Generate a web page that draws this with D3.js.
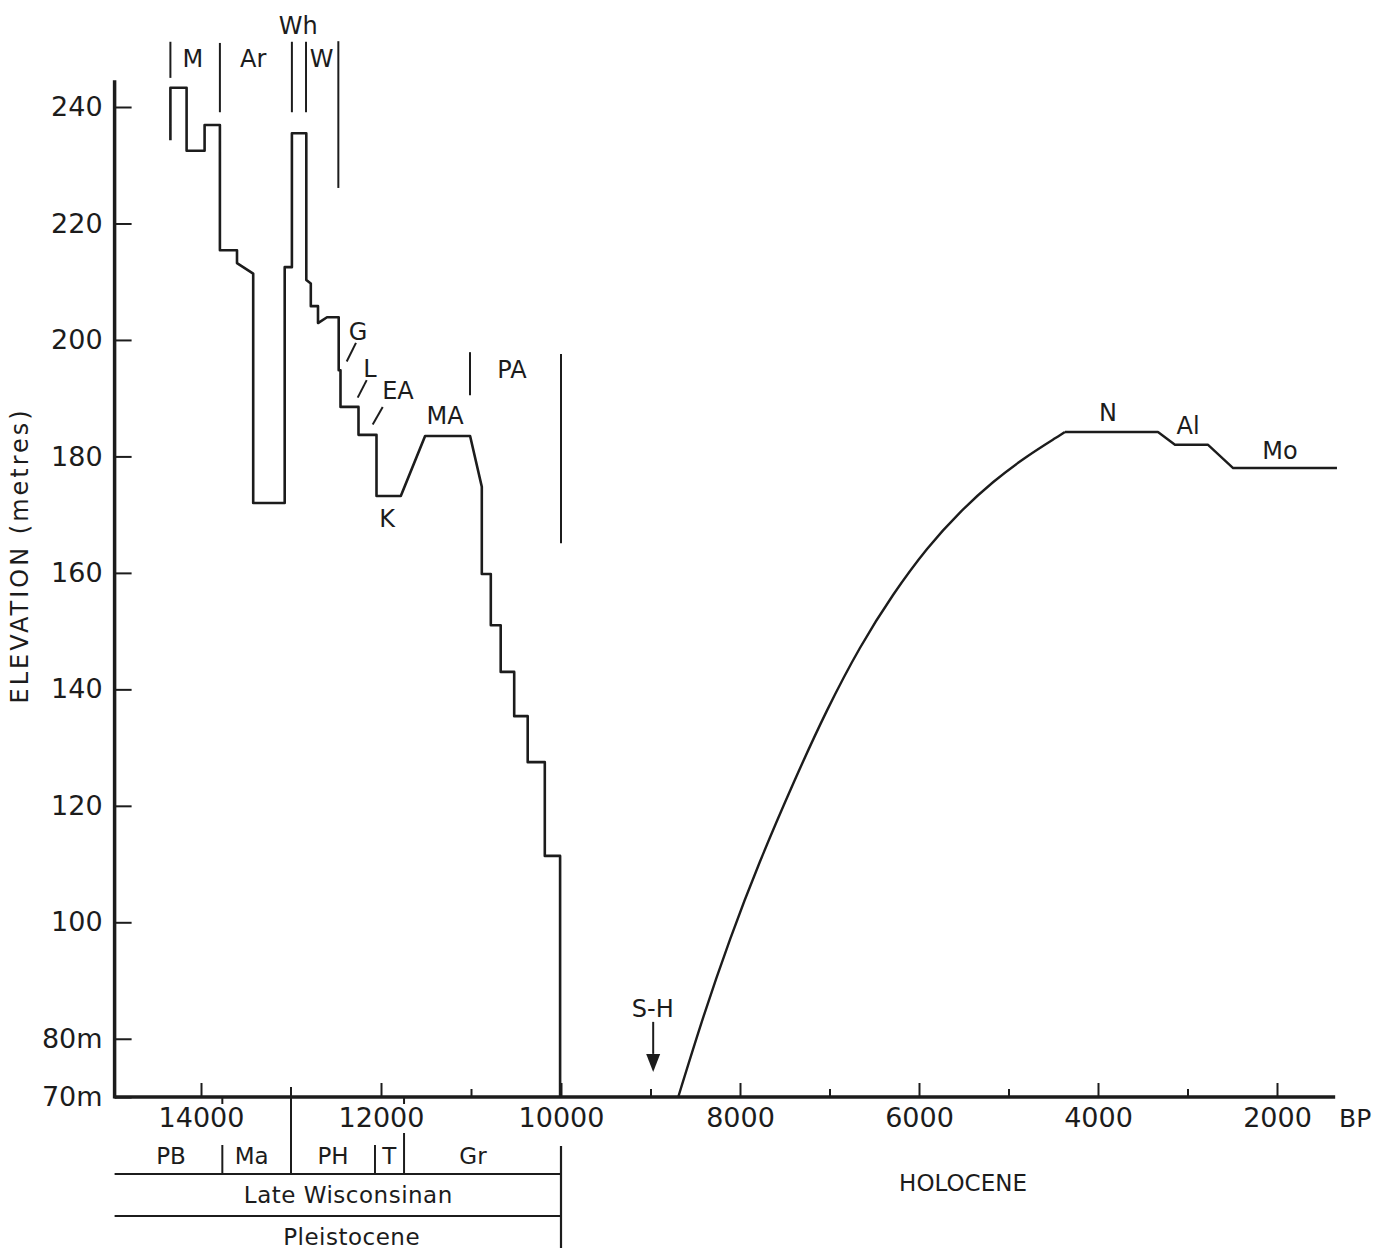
<!DOCTYPE html>
<html>
<head>
<meta charset="utf-8">
<script src="https://cdn.jsdelivr.net/npm/d3@7"></script>
<style>
  body { margin: 0; background: #fff; }
  svg text { font-family: "DejaVu Sans", sans-serif; fill: #1c1c1c; }
</style>
</head>
<body>
<svg id="chart" width="1379" height="1253"></svg>
<script>
// Late Wisconsinan lake levels, stepped record (years BP, elevation m)
const pleistoYears = [14340, 14340, 14160, 14160, 13960, 13960, 13790, 13790, 13600, 13600,
  13420, 13420, 13070, 13070, 12990, 12990, 12830, 12830, 12780, 12780, 12700, 12700, 12600,
  12470, 12470, 12450, 12450, 12250, 12250, 12050, 12050, 11780, 11510, 11010, 10880, 10880,
  10780, 10780, 10670, 10670, 10520, 10520, 10370, 10370, 10180, 10180, 10010, 10010];
const pleistoElev = [234.3, 243.3, 243.3, 232.5, 232.5, 236.9, 236.9, 215.4, 215.4, 213.2,
  211.4, 172.0, 172.0, 212.5, 212.5, 235.5, 235.5, 210.3, 209.7, 205.8, 205.8, 202.9, 203.9,
  203.9, 194.8, 194.8, 188.5, 188.5, 183.7, 183.7, 173.2, 173.2, 183.5, 183.5, 174.8, 159.8,
  159.8, 151.0, 151.0, 143.0, 143.0, 135.4, 135.4, 127.5, 127.5, 111.4, 111.4, 70];

// Holocene rise (smooth) and the later stepped levels
const holoYears = [8690, 8410, 8110, 7780, 7400, 7030, 6660, 6290, 5910, 5540, 5170, 4800, 4480, 4370];
const holoElev = [70, 83.7, 97.1, 110.3, 124.0, 136.3, 147.1, 156.2, 164.1, 170.4, 175.6, 179.9, 183.1, 184.2];
const lateYears = [4370, 3330, 3140, 2770, 2490, 1330];
const lateElev = [184.2, 184.2, 182.0, 182.0, 178.0, 178.0];

// axes
const majorTicks = [14000, 12000, 10000, 8000, 6000, 4000, 2000];
const minorTicks = [11000, 9000, 7000, 5000, 3000];
const elevTicks = [240, 220, 200, 180, 160, 140, 120, 100, 80, 70];
const yearExtent = [14960, 1350];
const elevExtent = [70, 244.6];

// lake phase labels
const lakeNames = ["M", "Ar", "Wh", "W", "G", "L", "EA", "MA", "K", "PA", "N", "Al", "Mo", "S-H"];
const lakeYears = [14090, 13420, 12920, 12660, 12256, 12122, 11811, 11289, 11933, 10544, 3888, 2994, 1966, 8975];
const lakeElev = [246.9, 246.9, 252.5, 246.9, 200.0, 193.7, 189.9, 185.5, 167.9, 193.5, 186.1, 183.8, 179.6, 83.7];

// phase boundary bars
const phaseYears = [14340, 13790, 12990, 12833, 12474, 11011, 10000];
const phaseTop = [251.2, 251.0, 251.2, 251.2, 251.3, 197.9, 197.6];
const phaseBottom = [245.0, 239.1, 239.1, 239.1, 226.1, 190.5, 165.1];

// G / L / EA / slashes
const slashFrom = [[12381, 196.3], [12259, 190.1], [12092, 185.5]];
const slashTo = [[12278, 199.5], [12159, 193.1], [11981, 188.5]];

// S-H arrow
const arrowYear = 8970;
const arrowElev = [82.9, 77.4, 74.3];

// stratigraphic units under the axis
const stageNames = ["PB", "Ma", "PH", "T", "Gr"];
const stageMid = [14333, 13437, 12533, 11908, 10978];
const stageBounds = [13763, 13000, 12067, 11744];
const stageBoundTop = [1145, 1087, 1145, 1133];

const svg = d3.select('#chart');

const x = d3.scaleLinear().domain([14000, 10000, 2000]).range([201, 561, 1277]);
const y = d3.scaleLinear().domain([70, 240]).range([1097, 107]);

const ink = '#1c1c1c';
const x0 = x(yearExtent[0]), x1 = x(yearExtent[1]);
const y0 = y(elevExtent[0]), y1 = y(elevExtent[1]);

// axis frame
svg.append('line').attr('x1', x0).attr('x2', x1).attr('y1', y0).attr('y2', y0)
  .attr('stroke', ink).attr('stroke-width', 3.5);
svg.append('line').attr('x1', x0).attr('x2', x0).attr('y1', y1).attr('y2', y0 + 1.5)
  .attr('stroke', ink).attr('stroke-width', 3.5);

// x ticks
const gx = svg.append('g').attr('transform', `translate(0,${y0})`);
gx.call(d3.axisBottom(x).tickValues(majorTicks).tickSize(-14).tickPadding(11).tickFormat(d3.format('d')));
gx.append('g').call(d3.axisBottom(x).tickValues(minorTicks).tickSize(-8).tickFormat(''));
gx.selectAll('.domain').remove();
gx.selectAll('line').attr('stroke', ink).attr('stroke-width', 2);
gx.selectAll('text').attr('font-size', 27).attr('fill', ink)
  .style('font-family', '"DejaVu Sans", sans-serif');

svg.append('text').attr('x', x1 + 20).attr('y', y0 + 30).attr('text-anchor', 'middle')
  .attr('font-size', 25).text('BP');

// y ticks
const gy = svg.append('g').attr('transform', `translate(${x0},0)`);
gy.call(d3.axisLeft(y).tickValues(elevTicks).tickSize(-17).tickPadding(12)
  .tickFormat(d => d <= 80 ? d + 'm' : d));
gy.select('.domain').remove();
gy.selectAll('line').attr('stroke', ink).attr('stroke-width', 2);
gy.selectAll('text').attr('font-size', 27).attr('fill', ink)
  .style('font-family', '"DejaVu Sans", sans-serif');

svg.append('text')
  .attr('transform', `translate(28,${y(163)}) rotate(-90)`)
  .attr('text-anchor', 'middle').attr('font-size', 24).attr('letter-spacing', 3)
  .text('ELEVATION (metres)');

// curves
const line = d3.line().x(d => x(d[0])).y(d => y(d[1]));
const curve = d3.line().x(d => x(d[0])).y(d => y(d[1])).curve(d3.curveNatural);

svg.append('path').datum(d3.zip(pleistoYears, pleistoElev)).attr('d', line)
  .attr('fill', 'none').attr('stroke', ink).attr('stroke-width', 2.6).attr('stroke-linejoin', 'round');
svg.append('path').datum(d3.zip(holoYears, holoElev)).attr('d', curve)
  .attr('fill', 'none').attr('stroke', ink).attr('stroke-width', 2.4);
svg.append('path').datum(d3.zip(lateYears, lateElev)).attr('d', line)
  .attr('fill', 'none').attr('stroke', ink).attr('stroke-width', 2.4).attr('stroke-linejoin', 'round');

// phase bars
phaseYears.forEach((yr, i) => {
  svg.append('line').attr('x1', x(yr)).attr('x2', x(yr))
    .attr('y1', y(phaseTop[i])).attr('y2', y(phaseBottom[i]))
    .attr('stroke', ink).attr('stroke-width', 2);
});

// slashes
slashFrom.forEach((p, i) => {
  svg.append('line').attr('x1', x(p[0])).attr('y1', y(p[1]))
    .attr('x2', x(slashTo[i][0])).attr('y2', y(slashTo[i][1]))
    .attr('stroke', ink).attr('stroke-width', 2);
});

// lake labels
lakeNames.forEach((n, i) => {
  svg.append('text').attr('x', x(lakeYears[i])).attr('y', y(lakeElev[i]))
    .attr('text-anchor', 'middle').attr('font-size', 24).text(n);
});

// S-H arrow
const ax = x(arrowYear);
svg.append('line').attr('x1', ax).attr('x2', ax).attr('y1', y(arrowElev[0])).attr('y2', y(arrowElev[1]))
  .attr('stroke', ink).attr('stroke-width', 2);
svg.append('path')
  .attr('d', `M${ax - 7},${y(arrowElev[1])}L${ax + 7},${y(arrowElev[1])}L${ax},${y(arrowElev[2])}Z`)
  .attr('fill', ink);

// stratigraphy below the axis
const rowLine1 = 1174, rowLine2 = 1216;
stageBounds.forEach((yr, i) => {
  svg.append('line').attr('x1', x(yr)).attr('x2', x(yr))
    .attr('y1', stageBoundTop[i]).attr('y2', rowLine1)
    .attr('stroke', ink).attr('stroke-width', 2);
});
[13763, 11744].forEach(yr => {
  svg.append('line').attr('x1', x(yr)).attr('x2', x(yr)).attr('y1', y0).attr('y2', y0 + 7)
    .attr('stroke', ink).attr('stroke-width', 2);
});
stageNames.forEach((n, i) => {
  svg.append('text').attr('x', x(stageMid[i])).attr('y', 1164)
    .attr('text-anchor', 'middle').attr('font-size', 23).text(n);
});
[rowLine1, rowLine2].forEach(ry => {
  svg.append('line').attr('x1', x0).attr('x2', x(10000)).attr('y1', ry).attr('y2', ry)
    .attr('stroke', ink).attr('stroke-width', 2.2);
});
svg.append('line').attr('x1', x(10000)).attr('x2', x(10000)).attr('y1', 1146).attr('y2', 1248)
  .attr('stroke', ink).attr('stroke-width', 2.2);
svg.append('text').attr('x', x(12363)).attr('y', 1203).attr('text-anchor', 'middle')
  .attr('font-size', 23).attr('letter-spacing', 0.5).text('Late  Wisconsinan');
svg.append('text').attr('x', x(12326)).attr('y', 1245).attr('text-anchor', 'middle')
  .attr('font-size', 23).attr('letter-spacing', 0.5).text('Pleistocene');
svg.append('text').attr('x', x(5508)).attr('y', 1191).attr('text-anchor', 'middle')
  .attr('font-size', 23).text('HOLOCENE');
</script>
</body>
</html>
